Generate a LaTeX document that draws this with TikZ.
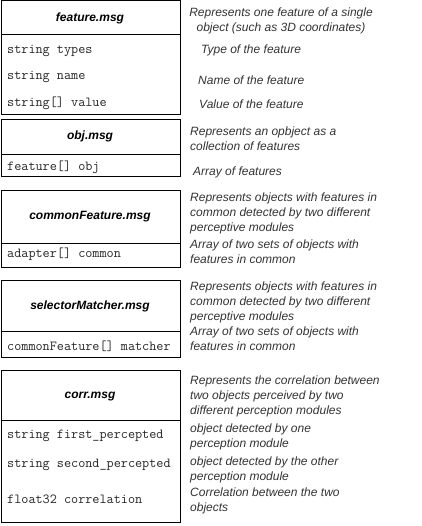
\documentclass[tikz,border=0pt]{standalone}
\usepackage{fontspec}
\setmainfont{Liberation Sans}
\begin{document}
\begin{tikzpicture}[x=1pt,y=-1pt,
  frame/.style={draw, line width=1pt},
  title/.style={font=\fontsize{12}{14}\selectfont\bfseries\itshape, anchor=center, inner sep=0},
  field/.style={font=\fontsize{13.8}{14}\selectfont\ttfamily, text=black!85, anchor=west, inner sep=0},
  note/.style={font=\fontsize{12}{15}\selectfont\itshape, text=black!80, anchor=west, align=left, inner sep=0}]
\useasboundingbox (0,0) rectangle (421,526);

% feature.msg
\draw[frame] (1,1) rectangle (180,115);
\draw[frame] (1,35) -- (180,35);
\node[title] (featT) at (90,18) {feature.msg};
\node[field] (featA) at (7,51) {string types};
\node[field] (featB) at (7,77) {string name};
\node[field] (featC) at (7,103) {string[] value};
\node[note, anchor=center, align=center] (featN) at (281,20.5) {Represents one feature of a single\\object (such as 3D coordinates)};
\node[note] (featNA) at (201,50) {Type of the feature};
\node[note] (featNB) at (198,80) {Name of the feature};
\node[note] (featNC) at (199,104) {Value of the feature};

% obj.msg
\draw[frame] (1,120) rectangle (180,177);
\draw[frame] (1,155) -- (180,155);
\node[title] (objT) at (90,136) {obj.msg};
\node[field] (objA) at (7,167) {feature[] obj};
\node[note] (objN) at (190,139) {Represents an opbject as a\\collection of features};
\node[note] (objNA) at (193,172) {Array of features};

% commonFeature.msg
\draw[frame] (1,191) rectangle (180,267);
\draw[frame] (1,243) -- (180,243);
\node[title] (comT) at (90,217) {commonFeature.msg};
\node[field] (comA) at (7,254) {adapter[] common};
\node[note] (comN) at (190,213) {Represents objects with features in\\common detected by two different\\perceptive modules};
\node[note] (comNA) at (190,251.5) {Array of two sets of objects with\\features in common};

% selectorMatcher.msg
\draw[frame] (1,280) rectangle (180,357);
\draw[frame] (1,331) -- (180,331);
\node[title] (selT) at (90,306) {selectorMatcher.msg};
\node[field] (selA) at (7,346) {commonFeature[] matcher};
\node[note] (selN) at (190,302) {Represents objects with features in\\common detected by two different\\perceptive modules};
\node[note] (selNA) at (190,338.5) {Array of two sets of objects with\\features in common};

% corr.msg
\draw[frame] (1,370) rectangle (180,522);
\draw[frame] (1,420) -- (180,420);
\node[title] (corT) at (90,397) {corr.msg};
\node[field] (corA) at (7,436) {string first\_percepted};
\node[field] (corB) at (7,465) {string second\_percepted};
\node[field] (corC) at (7,499) {float32 correlation};
\node[note] (corN) at (190,396) {Represents the correlation between\\two objects perceived by two\\different perception modules};
\node[note] (corNA) at (190,437) {object detected by one\\perception module};
\node[note] (corNB) at (190,470) {object detected by the other\\perception module};
\node[note] (corNC) at (190,500.5) {Correlation between the two\\objects};
\end{tikzpicture}
\end{document}
